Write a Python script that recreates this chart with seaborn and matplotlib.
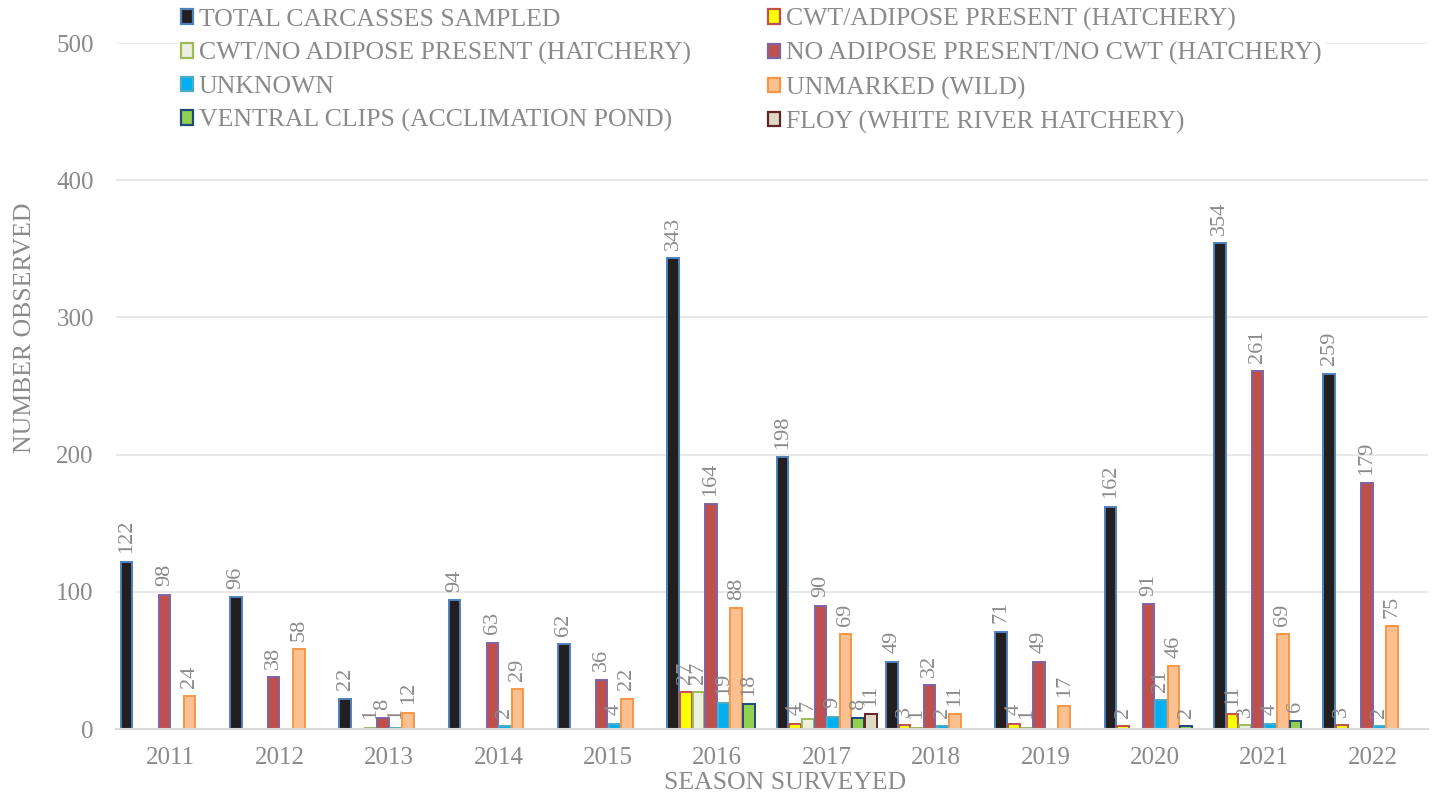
import numpy as np
import pandas as pd
import matplotlib
matplotlib.use("Agg")
import matplotlib.pyplot as plt
from matplotlib.patches import Patch
from matplotlib.ticker import FixedLocator
import seaborn as sns

nan = np.nan

years = ["2011", "2012", "2013", "2014", "2015", "2016",
         "2017", "2018", "2019", "2020", "2021", "2022"]

series = [
    "TOTAL CARCASSES SAMPLED",
    "CWT/ADIPOSE PRESENT (HATCHERY)",
    "CWT/NO ADIPOSE PRESENT (HATCHERY)",
    "NO ADIPOSE PRESENT/NO CWT (HATCHERY)",
    "UNKNOWN",
    "UNMARKED (WILD)",
    "VENTRAL CLIPS (ACCLIMATION POND)",
    "FLOY (WHITE RIVER HATCHERY)",
]

total_sampled = [122, 96, 22, 94, 62, 343, 198, 49, 71, 162, 354, 259]
cwt_adipose = [nan, nan, nan, nan, nan, 27, 4, 3, 4, 2, 11, 3]
cwt_no_adipose = [nan, nan, 1, nan, nan, 27, 7, 1, 1, nan, 3, nan]
no_adipose_no_cwt = [98, 38, 8, 63, 36, 164, 90, 32, 49, 91, 261, 179]
unknown = [nan, nan, 1, 2, 4, 19, 9, 2, nan, 21, 4, 2]
unmarked_wild = [24, 58, 12, 29, 22, 88, 69, 11, 17, 46, 69, 75]
ventral_clips = [nan, nan, nan, nan, nan, 18, 8, nan, nan, 2, 6, nan]
floy = [nan, nan, nan, nan, nan, nan, 11, nan, nan, nan, nan, nan]

face_colors = ["#231F20", "#FFFF00", "#EBF1DE", "#C0504D",
               "#00B0F0", "#FAC090", "#92D050", "#DDD9C4"]
edge_colors = ["#4F81BD", "#C0504D", "#9BBB59", "#8064A2",
               "#4BACC6", "#F79646", "#1F497D", "#632523"]

values = [total_sampled, cwt_adipose, cwt_no_adipose, no_adipose_no_cwt,
          unknown, unmarked_wild, ventral_clips, floy]

rows = []
for name, vals in zip(series, values):
    for yr, v in zip(years, vals):
        rows.append({"season": yr, "category": name, "count": v})
df = pd.DataFrame(rows).dropna(subset=["count"])

TEXT = "#8A8A8A"
FONT = "Liberation Serif"

sns.set_theme(style="white")
plt.rcParams["font.family"] = [FONT, "DejaVu Serif"]

fig = plt.figure(figsize=(14.43, 8.01), dpi=100)
ax = fig.add_axes([116 / 1443, 1 - 729 / 801, 1312 / 1443, 686 / 801])

sns.barplot(data=df, x="season", y="count", hue="category",
            order=years, hue_order=series, palette=face_colors,
            width=0.925, gap=0.08, errorbar=None, legend=False,
            linewidth=1.4, saturation=1, ax=ax)

for cont, ec in zip(ax.containers, edge_colors):
    for bar in cont:
        bar.set_edgecolor(ec)
        bar.set_linewidth(1.4)
    ax.bar_label(cont, labels=[f"{int(b.get_height())}" for b in cont],
                 rotation=90, padding=6, color=TEXT, fontsize=16,
                 family=FONT)

ax.set_ylim(0, 500)
ax.set_xlim(-0.5, len(years) - 0.5)
ax.set_yticks(range(0, 501, 100))
ax.yaxis.grid(True, color="#E6E6E6", linewidth=1.3)
ax.set_axisbelow(True)

for side in ["top", "right", "left"]:
    ax.spines[side].set_visible(False)
ax.spines["bottom"].set_color("#D9D9D9")
ax.spines["bottom"].set_linewidth(1.5)

ax.tick_params(axis="y", length=0, pad=16, labelsize=18, labelcolor=TEXT)
ax.tick_params(axis="x", which="major", length=0, pad=13, labelsize=18,
               labelcolor=TEXT)
ax.xaxis.set_minor_locator(FixedLocator(np.arange(-0.5, len(years), 1.0)))
ax.tick_params(axis="x", which="minor", length=9, width=1.5,
               color="#D9D9D9", direction="inout")

ax.set_xlabel("SEASON SURVEYED", fontsize=18.5, color=TEXT)
ax.set_ylabel("NUMBER OBSERVED", fontsize=18.5, color=TEXT)
ax.xaxis.set_label_coords(0.51, -0.062)
ax.yaxis.set_label_coords(-0.061, 0.585)

# legend: two columns, rows read left-to-right
order = [0, 2, 4, 6, 1, 3, 5, 7]
handles = [Patch(facecolor=face_colors[i], edgecolor=edge_colors[i],
                 linewidth=1.6, label=series[i]) for i in order]
leg = ax.legend(handles=handles, ncol=2, loc="upper left",
                bbox_to_anchor=(178 / 1443, 0.993), bbox_transform=fig.transFigure,
                frameon=True, facecolor="white", edgecolor="white",
                framealpha=1, fontsize=18.5, handlelength=0.5,
                handleheight=0.5, handletextpad=0.2, labelspacing=0.43,
                columnspacing=3.0, borderpad=0.1, borderaxespad=0)
for t in leg.get_texts():
    t.set_color(TEXT)
leg.set_zorder(5)

fig.savefig("out.png", dpi=100)
